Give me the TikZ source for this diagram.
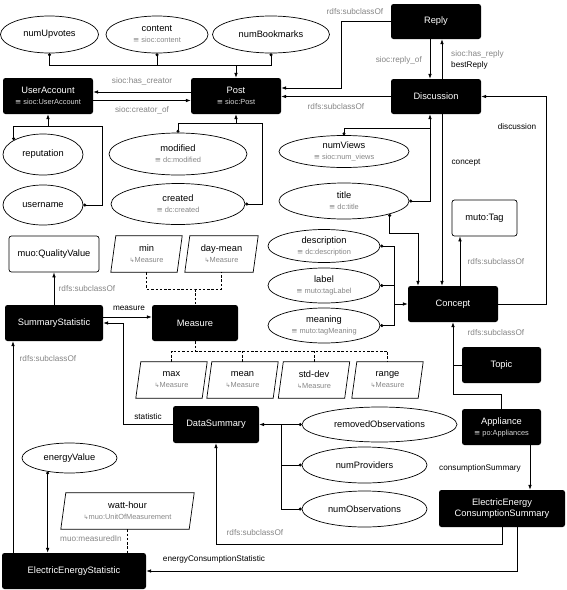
\documentclass[tikz,border=0pt]{standalone}
\usepackage{fontspec}
\setmainfont{Liberation Sans}
\newfontfamily\symf{DejaVu Sans}
\usetikzlibrary{arrows.meta,shapes.geometric}
\definecolor{lg}{HTML}{858585}
\definecolor{wg}{HTML}{D6D6D6}
\newcommand\subg[1]{{\fontsize{7.4}{9}\selectfont\color{lg}#1}}
\newcommand\subw[1]{{\fontsize{7.4}{9}\selectfont\color{wg}#1}}
\newcommand\eqv{{\symf ≡}}
\newcommand\msr{\subg{{\symf\fontsize{6}{7}\selectfont ↳}Measure}}
\begin{document}
\begin{tikzpicture}[x=1pt,y=-1pt,
  mainf/.style={font=\fontsize{9.3}{11}\selectfont},
  cls/.style={fill=black, rounded corners=2.5pt, text=white, align=center, inner sep=1pt, mainf},
  wbox/.style={draw, line width=0.7pt, fill=white, rounded corners=2.5pt, align=center, inner sep=1pt, mainf},
  prop/.style={ellipse, draw, line width=0.7pt, align=center, inner sep=0pt, mainf},
  pbox/.style={rectangle, align=center, inner sep=0pt, mainf, minimum height=36pt},
  ln/.style={line width=0.7pt},
  ar/.style={ln, -{Latex[length=5pt,width=3.6pt]}},
  da/.style={ln, {Circle[length=3pt]}-{Latex[length=5pt,width=3.6pt]}},
  dt/.style={ln, {Circle[length=3pt]}-},
  dsh/.style={ln, dash pattern=on 2.5pt off 1.8pt},
  gl/.style={text=lg, font=\fontsize{8.2}{10}\selectfont, inner sep=0pt},
  bl/.style={text=black, font=\fontsize{8.2}{10}\selectfont, inner sep=0pt}
]
\useasboundingbox (0,0) rectangle (566,590);

% ---- top ellipses
\node[prop, minimum width=98pt, minimum height=37pt] (nup) at (49.5,34.5) {numUpvotes};
\node[prop, minimum width=102pt, minimum height=37pt] (cont) at (157,34.5) {content\\\subg{\eqv\ sioc:content}};
\node[prop, minimum width=117pt, minimum height=37pt] (nbm) at (271,34.5) {numBookmarks};

% ---- classes
\node[cls, minimum width=90pt, minimum height=36pt] (ua) at (48,96) {UserAccount\\\subw{\eqv\ sioc:UserAccount}};
\node[cls, minimum width=90pt, minimum height=36pt] (post) at (236,96) {Post\\\subw{\eqv\ sioc:Post}};
\node[cls, minimum width=90pt, minimum height=35pt] (reply) at (436,21.5) {Reply};
\node[cls, minimum width=90pt, minimum height=35pt] (disc) at (436,96.5) {Discussion};
\node[cls, minimum width=90pt, minimum height=36pt] (concept) at (453,304) {Concept};
\node[wbox, minimum width=65pt, minimum height=36pt] (tag) at (484.5,218) {muto:Tag};
\node[cls, minimum width=79pt, minimum height=36pt] (topic) at (501.5,365) {Topic};
\node[cls, minimum width=79pt, minimum height=36pt] (appl) at (501.5,427) {Appliance\\\subw{\eqv\ po:Appliances}};
\node[cls, minimum width=126pt, minimum height=37pt] (eecs) at (502,508.5) {ElectricEnergy\\ConsumptionSummary};
\node[cls, minimum width=86pt, minimum height=37pt] (ds) at (216,424.5) {DataSummary};
\node[cls, minimum width=98pt, minimum height=36pt] (ss) at (54,323) {SummaryStatistic};
\node[cls, minimum width=86pt, minimum height=36pt] (meas) at (195,323) {Measure};
\node[wbox, minimum width=90pt, minimum height=36pt] (qv) at (54,254) {muo:QualityValue};
\node[cls, minimum width=144pt, minimum height=36pt] (ees) at (74,571) {ElectricEnergyStatistic};

% ---- property ellipses
\node[prop, minimum width=80pt, minimum height=41pt] (rep) at (43,154.5) {reputation};
\node[prop, minimum width=80pt, minimum height=40pt] (user) at (43,205) {username};
\node[prop, minimum width=138pt, minimum height=42pt] (mod) at (178,154) {modified\\\subg{\eqv\ dc:modified}};
\node[prop, minimum width=134pt, minimum height=41pt] (crt) at (178,204) {created\\\subg{\eqv\ dc:created}};
\node[prop, minimum width=130pt, minimum height=32pt] (nv) at (344,151.5) {numViews\\\subg{\eqv\ sioc:num\_views}};
\node[prop, minimum width=130pt, minimum height=36pt] (title) at (344,201) {title\\\subg{\eqv\ dc:title}};
\node[prop, minimum width=112pt, minimum height=33pt] (desc) at (324,246) {description\\\subg{\eqv\ dc:description}};
\node[prop, minimum width=112pt, minimum height=35pt] (lab) at (324,285.5) {label\\\subg{\eqv\ muto:tagLabel}};
\node[prop, minimum width=112pt, minimum height=35pt] (mean) at (324,325.5) {meaning\\\subg{\eqv\ muto:tagMeaning}};
\node[prop, minimum width=155pt, minimum height=35pt] (rob) at (379.5,424.5) {removedObservations};
\node[prop, minimum width=125pt, minimum height=36pt] (npr) at (364.5,465) {numProviders};
\node[prop, minimum width=125pt, minimum height=36pt] (nob) at (364.5,509) {numObservations};
\node[prop, minimum width=95pt, minimum height=30pt] (ev) at (69.5,458) {energyValue};

% ---- parallelogram individuals
\node[pbox, minimum width=66pt] (pmin) at (146.5,254) {min\\\msr};
\node[pbox, minimum width=68pt] (pdm) at (221.5,254) {day-mean\\\msr};
\node[pbox, minimum width=66pt] (pmax) at (171.5,380) {max\\\msr};
\node[pbox, minimum width=66pt] (pmean) at (242.5,380) {mean\\\msr};
\node[pbox, minimum width=66pt] (psd) at (314,380) {std-dev\\\msr};
\node[pbox, minimum width=66pt] (prange) at (387.5,380) {range\\\msr};
\node[pbox, minimum width=128pt] (watt) at (127.5,511) {watt-hour\\\subg{{\symf\fontsize{6}{7}\selectfont ↳}muo:UnitOfMeasurement}};
\foreach \n in {pmin,pdm,pmax,pmean,psd,prange,watt}
  \draw[ln] ([xshift=2.5pt]\n.north west) -- ([xshift=2.5pt]\n.north east)
    -- ([xshift=-2.5pt]\n.south east) -- ([xshift=-2.5pt]\n.south west) -- cycle;

% ---- coordinates
\coordinate (b1) at (236,65);
\coordinate (u1) at (48,126);
\coordinate (u2) at (102,126);
\coordinate (p1) at (236,123);
\coordinate (p2) at (262,123);
\coordinate (r1) at (341,21.5);
\coordinate (v1) at (430,128);
\coordinate (c1) at (418,233);
\coordinate (c2) at (394,304);
\coordinate (k1) at (546,304);
\coordinate (a1) at (453,394);
\coordinate (e1) at (216,544);
\coordinate (d1) at (281,424.5);
\coordinate (s1) at (123,424.5);
\coordinate (m1) at (195,289);
\coordinate (m2) at (195,351);

% ---- top bus to Post
\draw[dt] (nup.south) |- (b1);
\draw[dt] (nbm.south) |- (b1);
\draw[dt] (cont.south) -- (cont.south |- b1);
\draw[ar] (b1) -- (post.north);

% ---- Post <-> UserAccount
\draw[ar] ([yshift=4pt]post.west) -- ([yshift=4pt]ua.east);
\draw[ar] ([yshift=-4.5pt]ua.east) -- ([yshift=-4.5pt]post.west);
\node[gl] at (142,81) {sioc:has\_creator};
\node[gl] at (142,110) {sioc:creator\_of};

% ---- UserAccount properties
\draw[dt] (rep.154) |- (u1);
\draw[dt] (user.east) -| (u2) -- (u1);
\draw[ar] (u1) -- (ua.south);

% ---- Post properties
\draw[dt] (mod.north) |- (p1);
\draw[dt] (crt.east) -| (p2) -- (p1);
\draw[ar] (p1) -- (post.south);

% ---- Reply / Discussion / Post
\draw[ar] (reply.west) -- (r1) |- ([yshift=8pt]post.east);
\node[gl] at (355,12) {rdfs:subclassOf};
\draw[ar] (disc.west) -- (disc.west -| post.east);
\node[gl] at (336,107) {rdfs:subclassOf};
\draw[ar] ([xshift=-6pt]reply.south) -- ([xshift=-6pt]disc.north);
\node[gl, anchor=east] at (422,60) {sioc:reply\_of};
\draw[ar] ([xshift=6pt]disc.north) -- ([xshift=6pt]reply.south);
\node[gl, anchor=west] at (451,54) {sioc:has\_reply};
\node[bl, anchor=west] at (451,65) {bestReply};

% ---- Discussion properties
\draw[dt] (nv.north) |- (v1);
\draw[dt] (title.east) -| (v1);
\draw[ar] (v1) -- ([xshift=-6pt]disc.south);

% ---- Discussion <-> Concept
\draw[ar] ([xshift=6pt]disc.south) -- ([xshift=6pt]disc.south |- concept.north);
\node[bl] at (466,163) {concept};
\draw[ar] (concept.east) -- (k1) |- (disc.east);
\node[bl] at (517,127) {discussion};

% ---- Concept properties
\draw[dt] (title.-16) |- (c1);
\draw[ar] (c1) -- (c1 |- concept.north);
\draw[dt] (desc.east) -| (c2);
\draw[dt] (lab.east) -| (c2);
\draw[dt] (mean.east) -| (c2);
\draw[ar] (c2) -- (concept.west);

% ---- Concept subclass
\draw[ar] ([xshift=7pt]concept.north) -- ([xshift=7pt]concept.north |- tag.south);
\node[gl] at (496,262) {rdfs:subclassOf};
\draw[ar] (topic.west) -| (concept.south);
\draw[ln] (appl.north) |- (a1) -- (a1 |- topic.west);
\node[gl] at (496,333) {rdfs:subclassOf};

% ---- Appliance -> EECS
\draw[ar] ([xshift=28.5pt]appl.south) -- ([xshift=28.5pt]appl.south |- eecs.north);
\node[bl] at (480,468) {consumptionSummary};

% ---- EECS -> DataSummary, EES
\draw[ar] (eecs.south) |- (e1) -- (ds.south);
\node[gl] at (255,533) {rdfs:subclassOf};
\draw[ar] ([xshift=15pt]eecs.south) |- (ees.east);
\node[bl] at (214,559) {energyConsumptionStatistic};

% ---- DataSummary properties
\draw[dt] (rob.west) -- (d1);
\draw[dt] (npr.west) -| (d1);
\draw[dt] (nob.west) -| (d1);
\draw[ar] (d1) -- (ds.east);

% ---- DataSummary -> SummaryStatistic
\draw[ar] (ds.west) -- (s1) |- (ss.east);
\node[bl] at (148,417) {statistic};

% ---- SummaryStatistic relations
\draw[ar] ([yshift=6pt]ss.east) -- ([yshift=6pt]meas.west);
\node[bl] at (129,308) {measure};
\draw[ar] (ss.north) -- (qv.south);
\node[gl] at (87,289) {rdfs:subclassOf};
\draw[ar] ([xshift=-61pt]ees.north) -- ([xshift=-61pt]ees.north |- ss.south);
\node[gl] at (48,359) {rdfs:subclassOf};

% ---- Measure individuals
\draw[dsh] (pmin.south) |- (m1) -| (pdm.south);
\draw[dsh] (m1) -- (meas.north);
\draw[dsh] (meas.south) -- (m2);
\draw[dsh] (pmax.north) |- (m2) -| (prange.north);
\draw[dsh] (pmean.north) -- (pmean.north |- m2);
\draw[dsh] (psd.north) -- (psd.north |- m2);

% ---- EES properties
\draw[da] (ev.212) -- (ev.212 |- ees.north);
\draw[dsh] (watt.south) -- (watt.south |- ees.north);
\node[gl] at (91,539) {muo:measuredIn};
\end{tikzpicture}
\end{document}
